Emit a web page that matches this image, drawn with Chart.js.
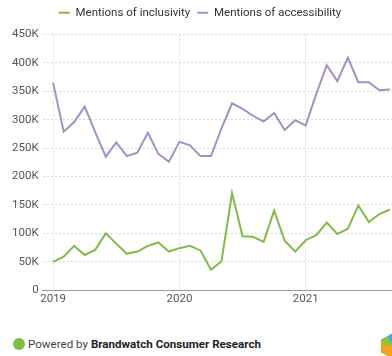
<!DOCTYPE html>
<html>
<head>
<meta charset="utf-8">
<script src="https://cdn.jsdelivr.net/npm/chart.js@4/dist/chart.umd.min.js"></script>
<style>
  html, body { margin: 0; padding: 0; background: #fff; }
  body { width: 392px; height: 356px; position: relative; overflow: hidden; font-family: Roboto, "Noto Sans", sans-serif; }
  #wrap { position: absolute; left: 0; top: 0; width: 392px; height: 308px; }
  #footer { position: absolute; left: 13px; top: 337px; font-size: 11.6px; color: #444; line-height: 14px; white-space: nowrap; }
  #footer .dot { display: inline-block; width: 12px; height: 12px; border-radius: 50%; background: #7cc142; vertical-align: -2px; margin-right: 3px; }
  #footer b { color: #222; }
  #logo { position: absolute; left: 381px; top: 333px; width: 24px; height: 26px;
    clip-path: polygon(50% 0, 100% 25%, 100% 75%, 50% 100%, 0 75%, 0 25%);
    background: conic-gradient(from 200deg, #f6a11b 0deg, #f6a11b 80deg, #8cc63f 80deg, #8cc63f 130deg, #3fa9f5 130deg, #3fa9f5 260deg, #f6a11b 260deg); }
</style>
</head>
<body>
<div id="wrap"><canvas id="chart"></canvas></div>
<div id="footer"><span class="dot"></span>Powered by <b>Brandwatch Consumer Research</b></div>
<div id="logo"></div>
<script>
// Monthly mentions, Jan 2019 - Sep 2021
var months = [
  '2019-01', '2019-02', '2019-03', '2019-04', '2019-05', '2019-06', '2019-07', '2019-08', '2019-09', '2019-10', '2019-11', '2019-12',
  '2020-01', '2020-02', '2020-03', '2020-04', '2020-05', '2020-06', '2020-07', '2020-08', '2020-09', '2020-10', '2020-11', '2020-12',
  '2021-01', '2021-02', '2021-03', '2021-04', '2021-05', '2021-06', '2021-07', '2021-08', '2021-09'
];
var inclusivity = [
  50000, 59000, 78000, 62000, 71000, 100000, 82000, 64000, 68000, 78000, 84000, 68000,
  74000, 78000, 70000, 36000, 51000, 171000, 95000, 94000, 85000, 140000, 87000, 68000,
  88000, 97000, 119000, 99000, 108000, 149000, 120000, 134000, 142000
];
var accessibility = [
  365000, 279000, 296000, 323000, 278000, 235000, 260000, 236000, 242000, 277000, 240000, 226000,
  261000, 255000, 236000, 236000, 285000, 329000, 319000, 307000, 297000, 312000, 282000, 299000,
  290000, 345000, 396000, 368000, 409000, 366000, 366000, 352000, 353000
];
var yearLabels = ['2019', '2020', '2021'];

// month index -> point, so the x axis can sit a month before the first value
function toPoints(values) {
  return months.map(function (m, i) { return { x: i, y: values[i] }; });
}

var gridColor = '#d9d9d9';
var tickColor = '#555';

// extra room under the legend
var legendGap = {
  id: 'legendGap',
  beforeInit: function (chart) {
    var fit = chart.legend.fit;
    chart.legend.fit = function () {
      fit.bind(chart.legend)();
      this.height += 6;
    };
  }
};

var ctx = document.getElementById('chart').getContext('2d');
new Chart(ctx, {
  type: 'line',
  data: {
    datasets: [{
      label: 'Mentions of inclusivity',
      data: toPoints(inclusivity),
      borderColor: '#80bb4b',
      backgroundColor: '#80bb4b',
      borderWidth: 2,
      pointRadius: 0,
      tension: 0
    }, {
      label: 'Mentions of accessibility',
      data: toPoints(accessibility),
      borderColor: '#a590c6',
      backgroundColor: '#a590c6',
      borderWidth: 2,
      pointRadius: 0,
      tension: 0
    }]
  },
  plugins: [legendGap],
  options: {
    responsive: true,
    maintainAspectRatio: false,
    animation: false,
    layout: { padding: { left: 8, right: 0, top: 0, bottom: 0 } },
    plugins: {
      tooltip: { enabled: false },
      legend: {
        position: 'top',
        labels: {
          color: '#333',
          font: { family: 'Roboto', size: 11.5 },
          usePointStyle: true,
          pointStyle: 'line',
          pointStyleWidth: 11,
          boxHeight: 8,
          padding: 7
        }
      }
    },
    scales: {
      x: {
        type: 'linear',
        min: -1,
        max: 32.2,
        afterBuildTicks: function (axis) {
          axis.ticks = yearLabels.map(function (y, i) { return { value: i * 12 }; });
        },
        ticks: {
          color: tickColor,
          font: { family: 'Roboto', size: 11.5 },
          padding: 2,
          maxRotation: 0,
          callback: function (value) { return yearLabels[value / 12]; }
        },
        grid: { color: gridColor, drawTicks: false },
        border: { display: true, color: '#9a9a9a', width: 1, dash: [2, 2] }
      },
      y: {
        min: 0,
        max: 450000,
        ticks: {
          stepSize: 50000,
          color: tickColor,
          font: { family: 'Roboto', size: 11.5 },
          padding: 4,
          callback: function (value) { return value === 0 ? '0' : (value / 1000) + 'K'; }
        },
        grid: { color: gridColor, drawTicks: false },
        border: { display: false, dash: [2, 2] }
      }
    }
  }
});
</script>
</body>
</html>
